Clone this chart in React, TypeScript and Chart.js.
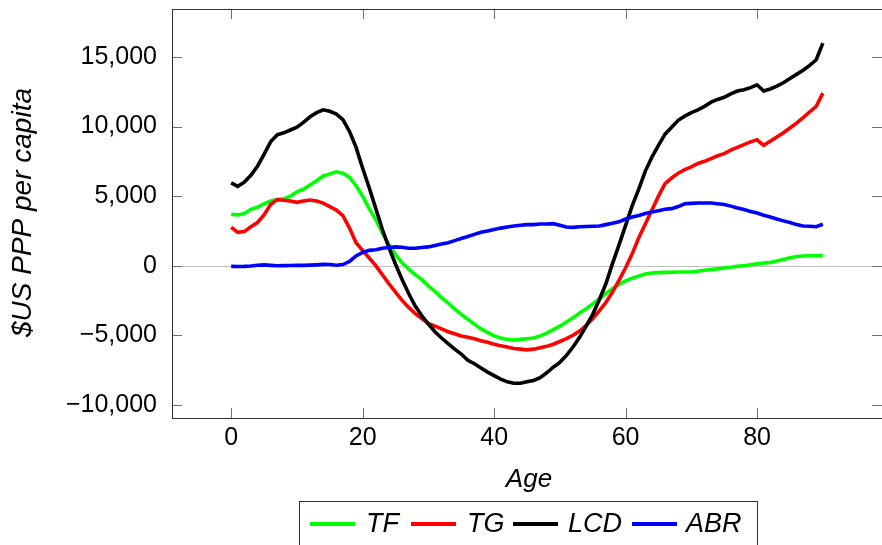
import React, { useEffect, useRef } from 'react';
import { Chart, registerables } from 'chart.js';

Chart.register(...registerables);

const AGES = [
  0, 1, 2, 3, 4, 5, 6, 7, 8, 9, 10, 11, 12, 13, 14, 15, 16, 17, 18, 19,
  20, 21, 22, 23, 24, 25, 26, 27, 28, 29, 30, 31, 32, 33, 34, 35, 36, 37, 38, 39,
  40, 41, 42, 43, 44, 45, 46, 47, 48, 49, 50, 51, 52, 53, 54, 55, 56, 57, 58, 59,
  60, 61, 62, 63, 64, 65, 66, 67, 68, 69, 70, 71, 72, 73, 74, 75, 76, 77, 78, 79,
  80, 81, 82, 83, 84, 85, 86, 87, 88, 89, 90,
];

const TF = [
  3700, 3650, 3750, 4050, 4200, 4450, 4650, 4750, 4800, 5000,
  5300, 5500, 5800, 6100, 6450, 6600, 6750, 6650, 6350, 5750,
  5000, 4100, 3300, 2350, 1500, 800, 200, -250, -650, -1000,
  -1450, -1850, -2300, -2700, -3100, -3500, -3850, -4200, -4550, -4800,
  -5050, -5200, -5300, -5350, -5300, -5250, -5200, -5050, -4850, -4600,
  -4350, -4050, -3750, -3400, -3100, -2750, -2400, -2000, -1650, -1350,
  -1100, -900, -750, -600, -530, -500, -480, -470, -460, -450,
  -450, -400, -330, -280, -230, -170, -110, -50, 0, 60,
  130, 180, 230, 330, 450, 570, 660, 690, 710, 715, 720,
];

const TG = [
  2750, 2400, 2450, 2800, 3100, 3650, 4400, 4750, 4700, 4650,
  4550, 4650, 4720, 4650, 4500, 4250, 4000, 3600, 2700, 1650,
  1100, 550, 0, -650, -1300, -1900, -2500, -3000, -3450, -3800,
  -4150, -4350, -4550, -4750, -4900, -5050, -5150, -5250, -5400, -5500,
  -5650, -5750, -5850, -5950, -6000, -6050, -6000, -5900, -5800, -5650,
  -5450, -5250, -5000, -4700, -4300, -3800, -3250, -2650, -1900, -1050,
  -150, 850, 2000, 3000, 4000, 5000, 5900, 6300, 6650, 6900,
  7100, 7350, 7500, 7700, 7900, 8050, 8300, 8500, 8700, 8900,
  9050, 8650, 8950, 9250, 9550, 9900, 10250, 10650, 11050, 11450, 12400,
];

const LCD = [
  5950, 5700, 6000, 6500, 7150, 8000, 8900, 9400, 9550, 9750,
  9950, 10300, 10700, 11000, 11200, 11100, 10900, 10500, 9650, 8500,
  7000, 5600, 4100, 2600, 1300, 100, -1000, -2000, -2900, -3600,
  -4200, -4750, -5200, -5600, -6000, -6350, -6800, -7050, -7350, -7650,
  -7900, -8150, -8350, -8450, -8450, -8350, -8250, -8050, -7700, -7300,
  -6950, -6450, -5850, -5150, -4350, -3500, -2450, -1300, 150, 1500,
  2900, 4300, 5500, 6800, 7800, 8650, 9450, 9950, 10450, 10750,
  11000, 11200, 11450, 11750, 11950, 12100, 12350, 12550, 12650, 12800,
  13000, 12550, 12700, 12900, 13150, 13450, 13750, 14050, 14400, 14800, 16000,
];

const ABR = [
  -50, -60, -50, -20, 30, 60, 20, -10, 0, 10,
  20, 20, 40, 60, 90, 80, 30, 80, 300, 700,
  950, 1100, 1150, 1250, 1300, 1350, 1320, 1250, 1250, 1300,
  1350, 1450, 1550, 1650, 1800, 1950, 2100, 2250, 2400, 2500,
  2600, 2700, 2780, 2850, 2900, 2950, 2950, 3000, 3000, 3020,
  2900, 2780, 2750, 2800, 2820, 2830, 2850, 2950, 3050, 3150,
  3350, 3500, 3600, 3750, 3850, 3950, 4050, 4100, 4250, 4450,
  4480, 4500, 4510, 4500, 4450, 4400, 4280, 4150, 4030, 3900,
  3780, 3620, 3500, 3350, 3220, 3100, 2950, 2850, 2830, 2800, 2980,
];

const SERIES_NAMES = ['TF', 'TG', 'LCD', 'ABR'];
const SERIES_COLORS = ['#00ff00', '#ff0000', '#000000', '#0000ff'];
const X_TICKS = [0, 20, 40, 60, 80];
const Y_TICKS = [-10000, -5000, 0, 5000, 10000, 15000];
const X_TITLE = 'Age';
const Y_TITLE = '$US PPP per capita';

const FONT = '"Liberation Sans", Arial, sans-serif';

function fmt(v: number): string {
  const s = Math.abs(v).toLocaleString('en-US');
  return v < 0 ? '\u2212' + s : s;
}

const framePlugin = {
  id: 'frame',
  beforeDatasetsDraw(chart: any) {
    const { ctx, chartArea, scales } = chart;
    const y0 = Math.round(scales.y.getPixelForValue(0)) + 0.5;
    ctx.save();
    ctx.strokeStyle = '#c0c0c0';
    ctx.lineWidth = 1;
    ctx.beginPath();
    ctx.moveTo(chartArea.left, y0);
    ctx.lineTo(chartArea.right, y0);
    ctx.stroke();
    ctx.restore();
  },
  afterDraw(chart: any) {
    const { ctx, chartArea, scales } = chart;
    const { left, right, top, bottom } = chartArea;
    ctx.save();
    // ticks (inward, all sides)
    ctx.strokeStyle = '#707070';
    ctx.lineWidth = 1;
    const TL = 10;
    ctx.beginPath();
    X_TICKS.forEach((v) => {
      const px = Math.round(scales.x.getPixelForValue(v)) + 0.5;
      ctx.moveTo(px, bottom);
      ctx.lineTo(px, bottom - TL);
      ctx.moveTo(px, top);
      ctx.lineTo(px, top + TL);
    });
    Y_TICKS.forEach((v) => {
      const py = Math.round(scales.y.getPixelForValue(v)) + 0.5;
      ctx.moveTo(left, py);
      ctx.lineTo(left + TL, py);
      ctx.moveTo(right, py);
      ctx.lineTo(right - TL, py);
    });
    ctx.stroke();
    // border
    ctx.strokeStyle = '#303030';
    ctx.strokeRect(Math.round(left) + 0.5, Math.round(top) + 0.5, right - left, bottom - top);

    // titles
    ctx.fillStyle = '#000';
    ctx.font = `italic 26px ${FONT}`;
    ctx.textAlign = 'center';
    ctx.textBaseline = 'alphabetic';
    ctx.fillText(X_TITLE, (left + 885) / 2 + 0.5, 487);

    ctx.save();
    ctx.translate(31, 212.5);
    ctx.rotate(-Math.PI / 2);
    ctx.font = `italic 28px ${FONT}`;
    ctx.fillText(Y_TITLE, 0, 0);
    ctx.restore();

    // legend
    ctx.strokeStyle = '#303030';
    ctx.lineWidth = 1;
    ctx.strokeRect(299.5, 501.5, 458, 80);
    const sampleX = [310, 411, 513, 632];
    const textX = [366, 467, 568, 686];
    ctx.font = `italic 27px ${FONT}`;
    ctx.textAlign = 'left';
    SERIES_NAMES.forEach((name, i) => {
      ctx.strokeStyle = SERIES_COLORS[i];
      ctx.lineWidth = 4;
      ctx.beginPath();
      ctx.moveTo(sampleX[i], 524);
      ctx.lineTo(sampleX[i] + 45, 524);
      ctx.stroke();
      ctx.fillStyle = '#000';
      ctx.fillText(name, textX[i], 532);
    });
    ctx.restore();
  },
};

export default function App() {
  const ref = useRef<HTMLCanvasElement>(null);

  useEffect(() => {
    document.body.style.margin = '0';
    const canvas = ref.current;
    if (!canvas) return;
    const seriesValues = [TF, TG, LCD, ABR];
    const datasets = SERIES_NAMES.map((name, i) => ({
      label: name,
      data: AGES.map((a, j) => ({ x: a, y: seriesValues[i][j] })),
      borderColor: SERIES_COLORS[i],
      backgroundColor: SERIES_COLORS[i],
      borderWidth: 3.6,
      pointRadius: 0,
      pointHoverRadius: 0,
      tension: 0,
      fill: false,
      order: 3 - i,
    }));

    const tickFont = { family: FONT, size: 25 };

    const chart = new Chart(canvas, {
      type: 'line',
      data: { datasets },
      plugins: [framePlugin],
      options: {
        animation: false,
        responsive: false,
        devicePixelRatio: 1,
        layout: { padding: { left: 0, top: 9, right: -3, bottom: 0 } },
        plugins: {
          legend: { display: false },
          tooltip: { enabled: false },
          title: { display: false },
        },
        scales: {
          x: {
            type: 'linear',
            min: -9,
            max: 99,
            grid: { display: false, drawTicks: false },
            border: { display: false },
            ticks: {
              font: tickFont,
              color: '#000',
              padding: 5,
              autoSkip: false,
              maxRotation: 0,
              callback: (v: any) => fmt(Number(v)),
            },
            afterBuildTicks: (s: any) => {
              s.ticks = X_TICKS.map((v) => ({ value: v }));
            },
            afterFit: (s: any) => {
              s.height = 127;
              s.paddingLeft = 0;
              s.paddingRight = 0;
              s.paddingTop = 0;
              s.paddingBottom = 0;
            },
          },
          y: {
            type: 'linear',
            min: -10950,
            max: 18450,
            grid: { display: false, drawTicks: false },
            border: { display: false },
            ticks: {
              font: tickFont,
              color: '#000',
              padding: 15,
              autoSkip: false,
              callback: (v: any) => fmt(Number(v)),
            },
            afterBuildTicks: (s: any) => {
              s.ticks = Y_TICKS.map((v) => ({ value: v }));
            },
            afterFit: (s: any) => {
              s.width = 172;
              s.paddingLeft = 0;
              s.paddingRight = 0;
              s.paddingTop = 0;
              s.paddingBottom = 0;
            },
          },
        },
      },
    } as any);
    return () => chart.destroy();
  }, []);

  return (
    <div style={{ width: 882, height: 545 }}>
      <canvas ref={ref} width={882} height={545} style={{ display: 'block' }} />
    </div>
  );
}
